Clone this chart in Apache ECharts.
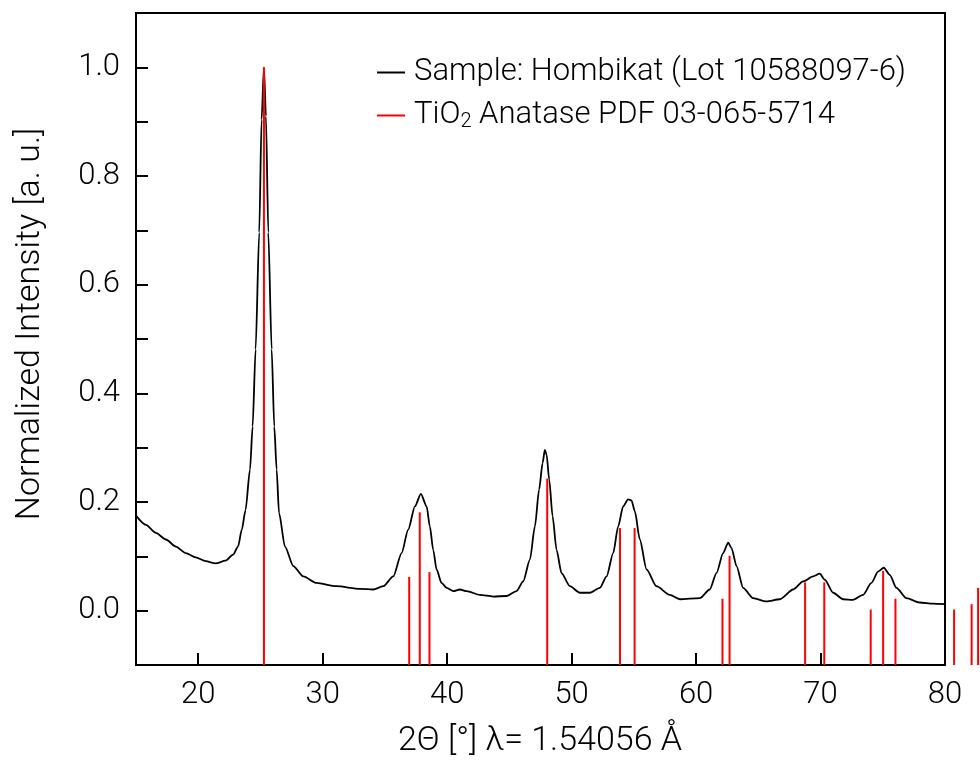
<!DOCTYPE html>
<html>
<head>
<meta charset="utf-8">
<script src="https://cdn.jsdelivr.net/npm/echarts@6/dist/echarts.min.js"></script>
<style>html,body{margin:0;padding:0;background:#fff}#c{width:980px;height:764px}</style>
</head>
<body>
<div id="c"></div>
<script>
// Measured XRD pattern: [2theta, normalized intensity]
const sampleName = 'Sample: Hombikat (Lot 10588097-6)';
const sampleData = [
  [15.0,0.175],[15.8,0.158],[16.6,0.143],[17.4,0.131],[18.2,0.118],[19.0,0.106],[19.8,0.098],
  [20.6,0.091],[21.4,0.087],[22.2,0.092],[22.8,0.103],[23.2,0.118],[23.5,0.149],[23.8,0.185],
  [24.16,0.26],[24.37,0.339],[24.61,0.481],[24.9,0.696],[25.09,0.904],[25.28,1.0],[25.44,0.91],
  [25.63,0.696],[25.9,0.481],[26.11,0.339],[26.3,0.26],[26.49,0.18],[26.97,0.118],[27.64,0.082],
  [28.44,0.063],[29.5,0.051],[31.1,0.045],[33.0,0.040],[34.06,0.039],[34.86,0.045],[35.67,0.063],
  [36.34,0.106],[36.87,0.149],[37.41,0.192],[37.89,0.215],[38.35,0.192],[38.61,0.155],[38.88,0.112],
  [39.15,0.076],[39.55,0.051],[39.96,0.042],[40.49,0.036],[41.02,0.039],[41.56,0.036],[42.63,0.029],
  [43.7,0.026],[44.77,0.027],[45.58,0.036],[46.11,0.054],[46.65,0.094],[47.05,0.155],[47.39,0.223],
  [47.67,0.272],[47.85,0.296],[47.99,0.287],[48.2,0.241],[48.47,0.174],[48.79,0.112],[49.19,0.069],
  [49.86,0.045],[50.66,0.033],[51.47,0.033],[52.27,0.042],[52.81,0.063],[53.34,0.106],[53.74,0.155],
  [54.14,0.192],[54.54,0.205],[54.81,0.203],[55.08,0.183],[55.48,0.131],[56.02,0.076],[56.82,0.045],
  [57.89,0.029],[58.7,0.021],[60.3,0.023],[61.1,0.039],[61.64,0.069],[62.17,0.106],[62.58,0.125],
  [62.85,0.115],[63.25,0.082],[63.78,0.042],[64.58,0.023],[65.66,0.017],[66.73,0.021],[67.8,0.039],
  [68.6,0.054],[69.4,0.063],[69.94,0.068],[70.34,0.057],[71.01,0.033],[71.81,0.021],[72.61,0.020],
  [73.42,0.029],[74.09,0.051],[74.62,0.072],[75.08,0.079],[75.56,0.066],[76.1,0.042],[76.9,0.023],
  [77.97,0.015],[79.04,0.013],[80.0,0.012]
];
// Reference pattern sticks: [2theta, relative intensity]
const refName = 'TiO2 Anatase PDF 03-065-5714';
const refData = [
  [25.28,1.0],[36.95,0.062],[37.80,0.181],[38.58,0.071],[48.04,0.243],[53.89,0.152],[55.06,0.152],
  [62.12,0.022],[62.69,0.101],[68.76,0.052],[70.30,0.052],[74.03,0.002],[75.03,0.073],[76.02,0.022],
  [80.73,0.002],[82.14,0.012],[82.66,0.042]
];
const xTicks = [20,30,40,50,60,70,80];
const yLabels = [0,0.2,0.4,0.6,0.8,1.0];
const yTicks = [0,0.1,0.2,0.3,0.4,0.5,0.6,0.7,0.8,0.9,1.0];
const xRange = [15,80];
const yRange = [-0.1,1.1];

const FONT = 'Roboto, "Liberation Sans", sans-serif';
const chart = echarts.init(document.getElementById('c'), null, {renderer:'canvas'});
chart.setOption({
  animation:false,
  backgroundColor:'#fff',
  grid:{left:136,right:35,top:13,bottom:99,show:true,borderColor:'#000',borderWidth:2,backgroundColor:'transparent'},
  legend:{
    orient:'vertical', left:372, top:52, itemGap:12, itemWidth:28, itemHeight:2,
    data:[{name:sampleName,icon:'rect'},{name:refName,icon:'rect'}],
    formatter:function(n){ return n===refName ? 'TiO{sub|2} Anatase PDF 03-065-5714' : n; },
    textStyle:{fontSize:31,fontFamily:FONT,fontWeight:300,color:'#000',padding:[0,0,0,4],
      rich:{sub:{fontSize:20,fontFamily:FONT,fontWeight:300,verticalAlign:'bottom',padding:[13,0,0,0]}}}
  },
  xAxis:{type:'value',min:xRange[0],max:xRange[1],
    axisLine:{show:true,onZero:false,lineStyle:{color:'#000',width:2}},
    axisTick:{show:true,inside:true,length:12,lineStyle:{color:'#000',width:2},customValues:xTicks},
    axisLabel:{customValues:xTicks,fontSize:31,fontFamily:FONT,fontWeight:300,color:'#000',margin:15},
    splitLine:{show:false}},
  yAxis:{type:'value',min:yRange[0],max:yRange[1],
    axisLine:{show:true,onZero:false,lineStyle:{color:'#000',width:2}},
    axisTick:{show:true,inside:true,length:12,lineStyle:{color:'#000',width:2},customValues:yTicks},
    axisLabel:{customValues:yLabels,fontSize:31,fontFamily:FONT,fontWeight:300,color:'#000',margin:16,
      formatter:function(v){return v.toFixed(1);}},
    splitLine:{show:false}},
  graphic:[
    {type:'text',x:540,y:741,style:{text:'2Θ [°] λ= 1.54056 Å',fontSize:34,fontFamily:FONT,fontWeight:300,fill:'#000',align:'center',verticalAlign:'middle'}},
    {type:'text',x:30,y:324,rotation:Math.PI/2,style:{text:'Normalized Intensity [a. u.]',fontSize:34,fontFamily:FONT,fontWeight:300,fill:'#000',align:'center',verticalAlign:'middle'}}
  ],
  series:[
    {name:refName,type:'custom',clip:false,itemStyle:{color:'#ff0000'},z:3,
      data:refData,
      renderItem:function(params,api){
        const x=api.value(0), h=api.value(1);
        const p0=api.coord([x,yRange[0]]), p1=api.coord([x,h]);
        return {type:'line',shape:{x1:p0[0],y1:p0[1],x2:p1[0],y2:p1[1]},style:{stroke:'#ff0000',lineWidth:2}};
      }},
    {name:sampleName,type:'line',data:sampleData,showSymbol:false,symbol:'none',smooth:0.25,smoothMonotone:'x',
      itemStyle:{color:'#000'},lineStyle:{color:'#000',width:1.8},z:2}
  ]
});
</script>
</body>
</html>
